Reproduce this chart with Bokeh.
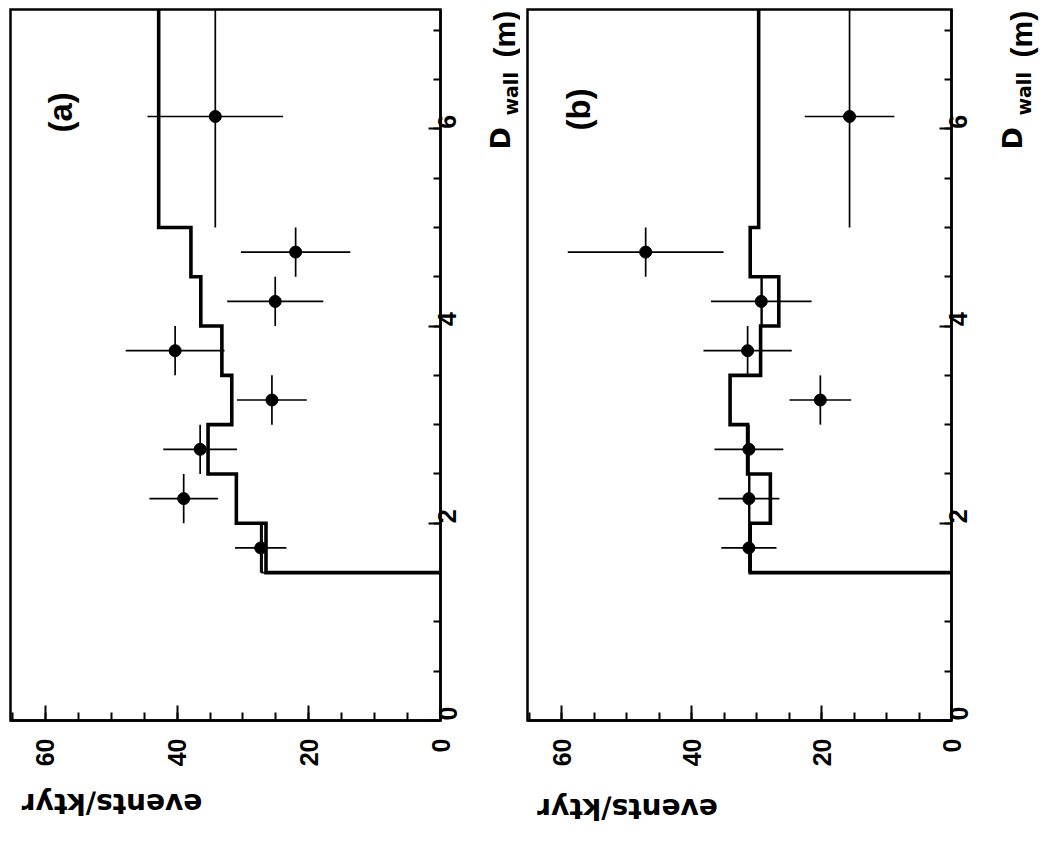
import math
from bokeh.plotting import figure
from bokeh.models import Range1d, FixedTicker, Label
from bokeh.layouts import row
from bokeh.embed import file_html
from bokeh.resources import INLINE

# ---------------- data ----------------
bin_edges = [1.5, 2.0, 2.5, 3.0, 3.5, 4.0, 4.5, 5.0, 7.25]
d_centers = [1.75, 2.25, 2.75, 3.25, 3.75, 4.25, 4.75, 6.125]

a_hist_thick = [26.5, 31.0, 35.3, 31.7, 33.2, 36.4, 37.9, 42.8]
a_hist_thin = [27.1, 31.0, 35.3, 31.7, 33.2, 36.4, 37.9, 42.8]
a_events = [27.3, 39.0, 36.5, 25.6, 40.3, 25.1, 22.0, 34.2]
a_err = [3.9, 5.2, 5.6, 5.3, 7.5, 7.3, 8.3, 10.3]

b_hist_thick = [31.0, 27.9, 31.4, 34.1, 29.4, 26.6, 31.0, 29.7]
b_hist_thin = [31.0, 31.1, 31.4, 34.1, 29.4, 29.2, 31.0, 29.7]
b_events = [31.2, 31.2, 31.2, 20.2, 31.4, 29.3, 47.1, 15.7]
b_err = [4.25, 4.7, 5.3, 4.75, 6.8, 7.75, 12.0, 6.9]

events_ticks = [0, 20, 40, 60]
events_minor = [5 * i for i in range(14)]
dwall_ticks = [0, 2, 4, 6]
dwall_minor = [0.5 * i for i in range(15)]
EVENTS_MAX = 65.3
DWALL_MAX = 7.21

CANVAS_H = 842
BOX_TOP, BOX_BOTTOM = 9, 720  # pixel rows of the panel box


def hist_path(edges, vals):
    xs, ys = [0.0], [edges[0]]
    for i, v in enumerate(vals):
        xs += [v, v]
        ys += [edges[i], edges[i + 1]]
    return xs, ys


def make_panel(tag, thick, thin, ev, err, canvas_w, box_l, box_r, txt):
    # the frame covers the whole canvas; the box and the axes sit at fixed data positions
    sx = (box_r - box_l) / EVENTS_MAX
    sy = (BOX_BOTTOM - BOX_TOP) / DWALL_MAX
    x0 = EVENTS_MAX + box_l / sx
    x1 = -(canvas_w - box_r) / sx
    y0 = -(CANVAS_H - BOX_BOTTOM) / sy
    y1 = DWALL_MAX + BOX_TOP / sy

    p = figure(frame_width=canvas_w, frame_height=CANVAS_H,
               min_border=0, min_border_left=0, min_border_right=0,
               min_border_top=0, min_border_bottom=0,
               x_range=Range1d(x0, x1), y_range=Range1d(y0, y1),
               y_axis_location="right", output_backend="svg",
               toolbar_location=None, tools="")
    p.grid.visible = False
    p.background_fill_color = "white"
    p.border_fill_color = "white"
    p.outline_line_color = None

    xa = p.xaxis[0]
    xa.ticker = FixedTicker(ticks=events_ticks, minor_ticks=events_minor)
    xa.fixed_location = 0
    xa.bounds = (0, EVENTS_MAX)
    ya = p.yaxis[0]
    ya.ticker = FixedTicker(ticks=dwall_ticks, minor_ticks=dwall_minor)
    ya.fixed_location = 0
    ya.bounds = (0, DWALL_MAX)
    for ax, mj, mn, so in ((xa, 15, 8, 18), (ya, 12, 7, 7)):
        ax.major_tick_in = mj
        ax.major_tick_out = 0
        ax.minor_tick_in = mn
        ax.minor_tick_out = 0
        ax.major_tick_line_width = 2
        ax.minor_tick_line_width = 2
        ax.major_tick_line_color = "black"
        ax.minor_tick_line_color = "black"
        ax.axis_line_width = 2.5
        ax.axis_line_color = "black"
        ax.major_label_orientation = math.pi / 2
        ax.major_label_standoff = so
        ax.major_label_text_font = "Liberation Sans"
        ax.major_label_text_font_style = "bold"
        ax.major_label_text_font_size = "25px"
        ax.major_label_text_color = "black"

    # panel box
    p.quad(left=[0], right=[EVENTS_MAX], bottom=[0], top=[DWALL_MAX],
           fill_color=None, line_color="black", line_width=2.5, line_join="miter")

    edges = [min(e, DWALL_MAX) for e in bin_edges]

    # histograms
    xs, ys = hist_path(edges, thin)
    p.line(xs, ys, line_width=1.8, line_color="black", line_join="miter")
    xs, ys = hist_path(edges, thick)
    p.line(xs, ys, line_width=3.6, line_color="black", line_join="miter")

    # data points with error bars
    lo = [e - s for e, s in zip(ev, err)]
    hi = [e + s for e, s in zip(ev, err)]
    p.segment(x0=lo, y0=d_centers, x1=hi, y1=d_centers, line_width=1.7, line_color="black")
    p.segment(x0=ev, y0=edges[:-1], x1=ev, y1=edges[1:], line_width=1.7, line_color="black")
    p.scatter(ev, d_centers, size=12, marker="circle", fill_color="black", line_color="black")

    # texts, placed from pixel positions on the canvas
    def lab(text, px, py, font, size, angle, align="left", baseline="alphabetic"):
        p.add_layout(Label(x=x0 - px / sx, y=y1 - py / sy, text=text, angle=angle,
                           text_font=font, text_font_style="bold",
                           text_font_size=size, text_color="black",
                           text_align=align, text_baseline=baseline))

    lab(tag, *txt["tag"], "Liberation Sans", "33px", math.pi / 2)
    lab("D", *txt["D"], "DejaVu Sans", "27px", math.pi / 2)
    lab("wall", *txt["wall"], "DejaVu Sans", "19px", math.pi / 2)
    lab("(m)", *txt["m"], "Liberation Sans", "30px", math.pi / 2)
    lab("events/ktyr", *txt["ev"], "DejaVu Sans", "28px", math.pi,
        align="center", baseline="middle")
    return p


pa = make_panel("(a)", a_hist_thick, a_hist_thin, a_events, a_err, 520, 10, 440,
                {"tag": (60, 132), "D": (500, 149), "wall": (510, 115),
                 "m": (503.5, 57), "ev": (111.5, 803)})
pb = make_panel("(b)", b_hist_thick, b_hist_thin, b_events, b_err, 526, 7, 431,
                {"tag": (58, 130), "D": (492, 149), "wall": (503, 115),
                 "m": (500.5, 57), "ev": (107, 808)})

layout = row(pa, pb)
open("out.html", "w").write(file_html(layout, INLINE))
